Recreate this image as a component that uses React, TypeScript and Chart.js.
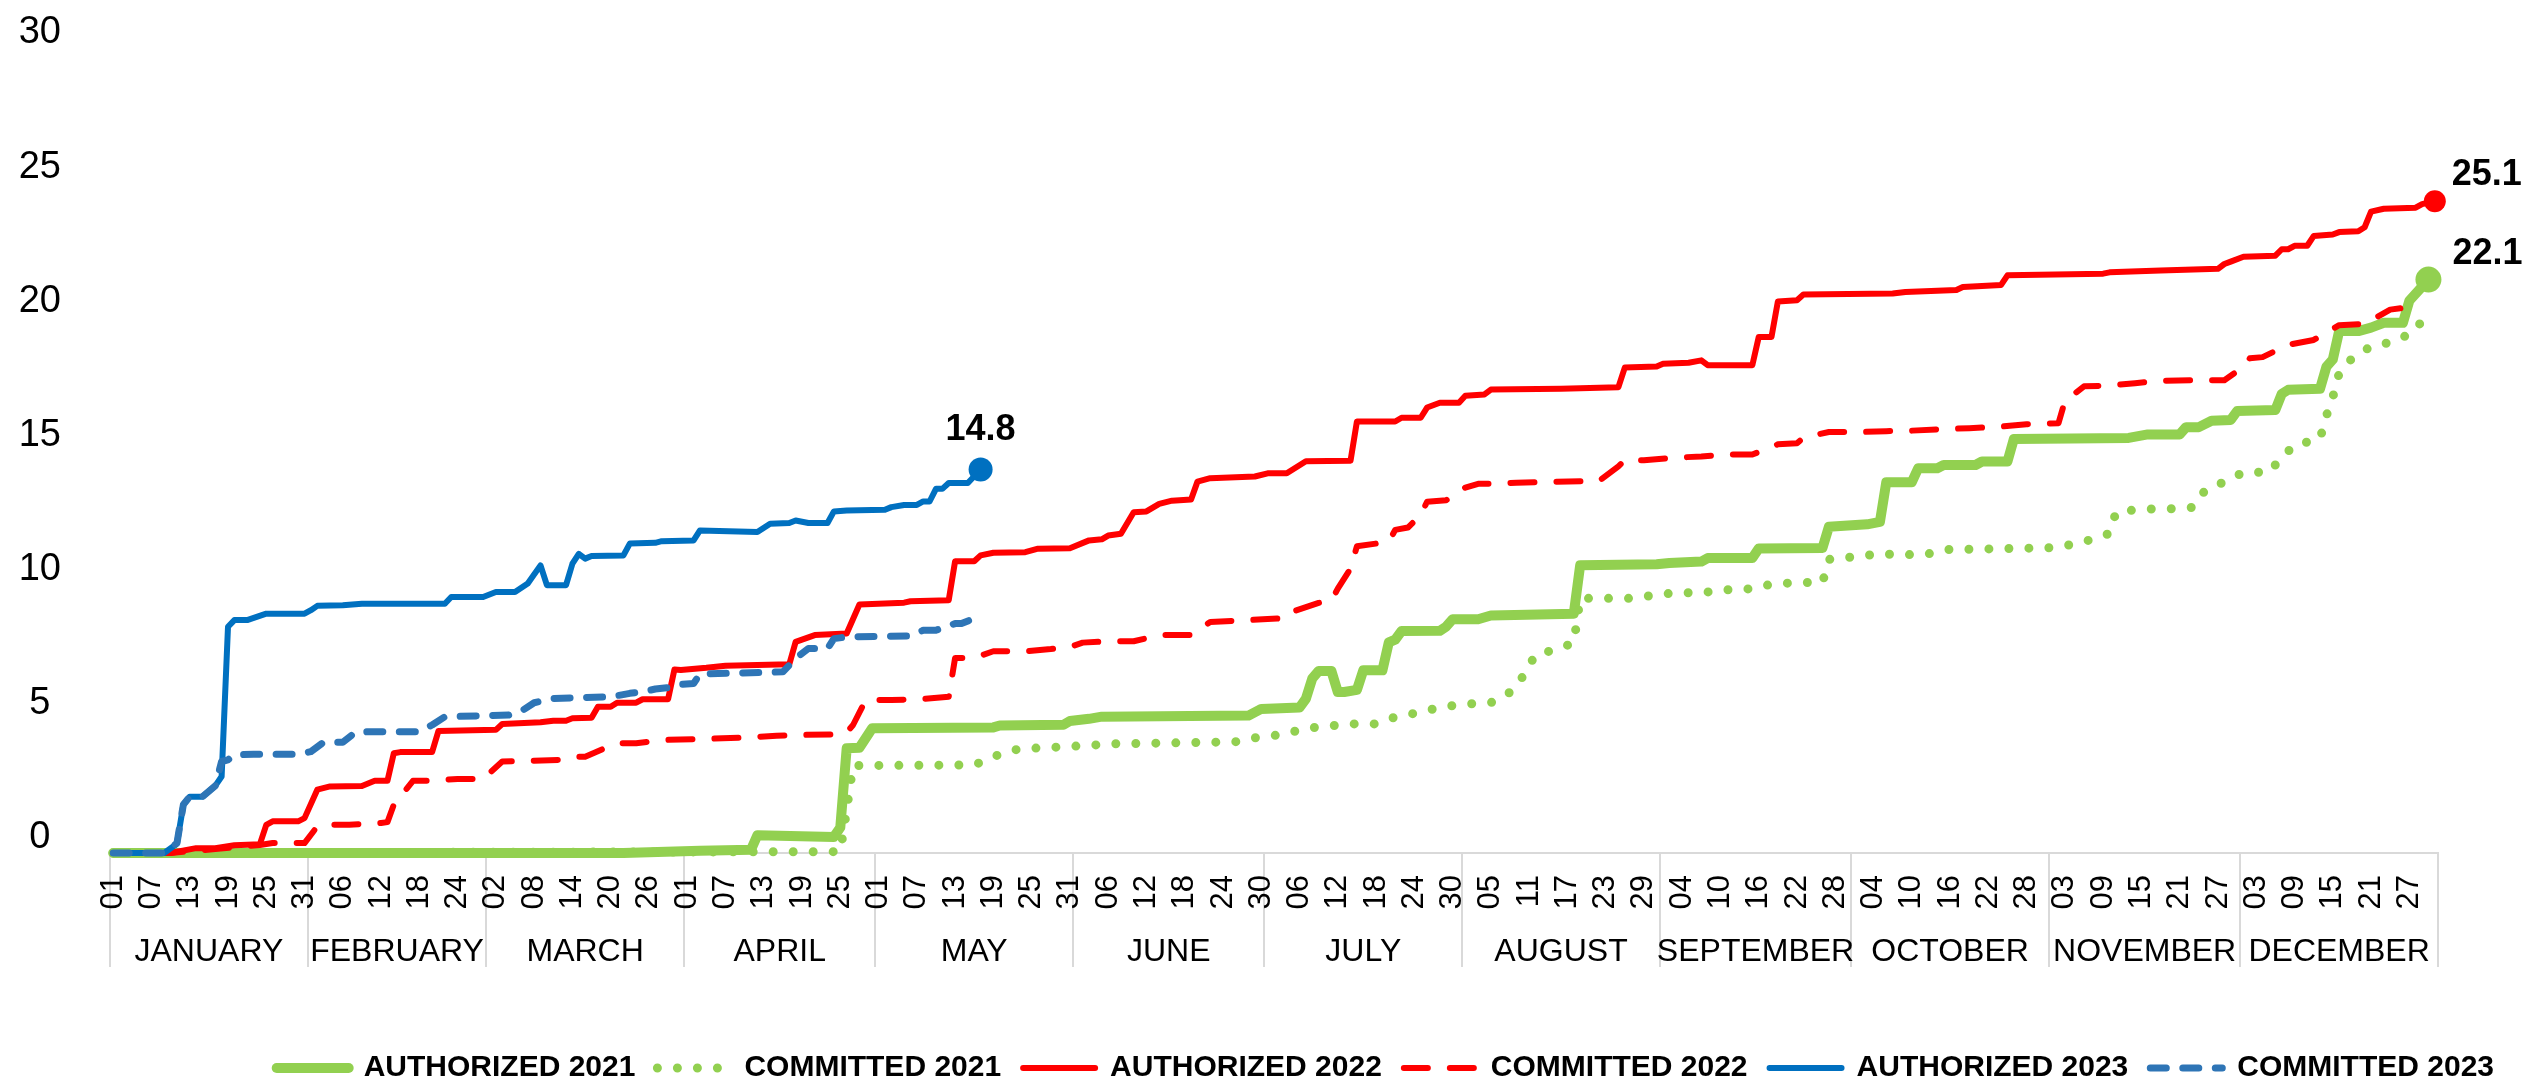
import React, { useEffect, useRef } from "react";
import { Chart, registerables } from "chart.js";

Chart.register(...registerables);

const FONT = '"Liberation Sans", Arial, Helvetica, sans-serif';

// ---- axis content ----
const MONTHS = ["JANUARY", "FEBRUARY", "MARCH", "APRIL", "MAY", "JUNE", "JULY", "AUGUST", "SEPTEMBER", "OCTOBER", "NOVEMBER", "DECEMBER"];
const MONTH_LENGTHS = [31, 28, 31, 30, 31, 30, 31, 31, 30, 31, 30, 31];
const TICK_EVERY_DAYS = 6;
const TICK_LABELS = [
  "01", "07", "13", "19", "25", "31",
  "06", "12", "18", "24",
  "02", "08", "14", "20", "26",
  "01", "07", "13", "19", "25",
  "01", "07", "13", "19", "25", "31",
  "06", "12", "18", "24", "30",
  "06", "12", "18", "24", "30",
  "05", "11", "17", "23", "29",
  "04", "10", "16", "22", "28",
  "04", "10", "16", "22", "28",
  "03", "09", "15", "21", "27",
  "03", "09", "15", "21", "27",
];
const Y_TICKS = [0, 5, 10, 15, 20, 25, 30];

const SERIES_LABELS = ["AUTHORIZED 2021", "COMMITTED 2021", "AUTHORIZED 2022", "COMMITTED 2022", "AUTHORIZED 2023", "COMMITTED 2023"];
// labels printed at the last point of the authorized series (dataset index -> text)
const END_LABEL_INDEX = [0, 2, 4];
const END_LABEL_TEXT = ["22.1", "25.1", "14.8"];

// ---- series (day of year, 0 = Jan 1) ----
const AUTH21_DAYS = [0, 80, 92, 100, 101, 113, 114, 115, 117, 119, 138, 139, 149, 150, 153, 155, 178, 180, 186, 187, 188, 189, 191, 192, 193, 195, 196, 199, 200, 201, 202, 208, 209, 210, 214, 216, 229, 230, 242, 244, 249, 250, 257, 258, 268, 269, 275, 277, 278, 282, 283, 286, 287, 292, 293, 297, 298, 316, 319, 324, 325, 327, 329, 332, 333, 339, 340, 341, 346, 347, 348, 349, 352, 354, 356, 359, 360, 363];
const AUTH21_VALUES = [0, 0, 0.08, 0.12, 0.66, 0.6, 0.95, 3.9, 3.92, 4.65, 4.68, 4.75, 4.78, 4.92, 5.0, 5.08, 5.12, 5.37, 5.42, 5.75, 6.5, 6.78, 6.78, 6.0, 6.0, 6.08, 6.81, 6.81, 7.85, 7.95, 8.27, 8.28, 8.44, 8.71, 8.71, 8.85, 8.92, 10.72, 10.76, 10.81, 10.86, 10.99, 10.99, 11.35, 11.37, 12.16, 12.25, 12.34, 13.82, 13.82, 14.34, 14.34, 14.46, 14.46, 14.59, 14.59, 15.43, 15.47, 15.6, 15.6, 15.87, 15.87, 16.11, 16.14, 16.47, 16.51, 17.11, 17.26, 17.3, 18.12, 18.39, 19.45, 19.45, 19.58, 19.76, 19.76, 20.58, 21.37];

const COMM21_DAYS = [0, 114, 115, 116, 135, 139, 142, 150, 157, 173, 176, 180, 183, 187, 190, 194, 198, 201, 205, 208, 212, 216, 219, 221, 223, 226, 229, 230, 234, 238, 242, 245, 249, 253, 257, 260, 264, 268, 269, 273, 277, 280, 284, 288, 292, 299, 303, 307, 310, 313, 314, 318, 322, 326, 328, 331, 334, 338, 340, 342, 346, 347, 348, 349, 351, 354, 358, 361, 363];
const COMM21_VALUES = [0, 0.05, 1.6, 3.26, 3.28, 3.68, 3.88, 3.97, 4.07, 4.13, 4.15, 4.34, 4.4, 4.64, 4.72, 4.81, 4.81, 5.07, 5.25, 5.43, 5.55, 5.6, 5.99, 6.57, 7.39, 7.57, 7.83, 9.49, 9.49, 9.49, 9.62, 9.7, 9.7, 9.81, 9.85, 10.02, 10.08, 10.08, 10.94, 11.04, 11.15, 11.12, 11.12, 11.32, 11.32, 11.36, 11.36, 11.49, 11.67, 11.91, 12.69, 12.82, 12.82, 12.88, 13.52, 13.83, 14.19, 14.19, 14.74, 15.2, 15.43, 16.29, 16.98, 17.88, 18.43, 18.88, 19.08, 19.49, 20.22];

const AUTH22_DAYS = [0, 9, 13, 16, 19, 23, 24, 25, 29, 30, 32, 34, 39, 41, 43, 44, 45, 50, 51, 60, 61, 67, 69, 71, 72, 75, 76, 78, 79, 82, 83, 87, 88, 89, 93, 96, 106, 107, 110, 115, 117, 124, 125, 131, 132, 135, 136, 138, 143, 145, 150, 153, 155, 156, 158, 160, 162, 164, 166, 169, 170, 172, 179, 181, 184, 187, 194, 195, 201, 202, 205, 206, 208, 211, 212, 215, 216, 227, 236, 237, 242, 243, 247, 249, 250, 257, 258, 260, 261, 264, 265, 279, 281, 289, 290, 296, 297, 312, 313, 321, 330, 331, 332, 334, 339, 340, 341, 342, 344, 345, 348, 349, 352, 353, 354, 356, 361, 362, 364];
const AUTH22_VALUES = [0, 0, 0.18, 0.18, 0.29, 0.33, 1.05, 1.18, 1.18, 1.3, 2.36, 2.48, 2.5, 2.69, 2.69, 3.72, 3.76, 3.76, 4.55, 4.59, 4.81, 4.87, 4.93, 4.93, 5.02, 5.04, 5.45, 5.45, 5.6, 5.6, 5.73, 5.73, 6.84, 6.82, 6.9, 6.98, 7.03, 7.87, 8.12, 8.18, 9.26, 9.33, 9.38, 9.42, 10.87, 10.87, 11.09, 11.19, 11.21, 11.34, 11.36, 11.65, 11.69, 11.83, 11.9, 12.7, 12.73, 13.01, 13.13, 13.17, 13.84, 13.97, 14.03, 14.15, 14.15, 14.6, 14.62, 16.08, 16.08, 16.22, 16.22, 16.6, 16.78, 16.78, 17.04, 17.09, 17.27, 17.3, 17.36, 18.09, 18.13, 18.23, 18.27, 18.36, 18.18, 18.18, 19.23, 19.23, 20.55, 20.6, 20.81, 20.85, 20.91, 20.98, 21.09, 21.17, 21.53, 21.59, 21.64, 21.71, 21.77, 21.95, 22.04, 22.22, 22.26, 22.5, 22.5, 22.63, 22.63, 22.99, 23.05, 23.14, 23.17, 23.32, 23.9, 24.01, 24.05, 24.18, 24.29];

const COMM22_DAYS = [0, 9, 16, 23, 25, 30, 32, 34, 37, 42, 43, 44, 46, 47, 50, 54, 58, 61, 65, 70, 72, 74, 78, 79, 82, 86, 91, 99, 104, 108, 113, 115, 116, 118, 122, 127, 131, 132, 135, 138, 143, 147, 150, 152, 156, 160, 164, 169, 172, 177, 181, 184, 185, 189, 191, 192, 194, 195, 200, 201, 203, 205, 206, 209, 212, 214, 216, 220, 225, 233, 236, 237, 240, 244, 249, 253, 257, 261, 264, 265, 269, 274, 278, 282, 287, 291, 296, 300, 305, 306, 309, 313, 317, 321, 326, 331, 334, 335, 337, 341, 345, 349, 353, 357, 359, 361];
const COMM22_VALUES = [0, 0, 0.15, 0.3, 0.37, 0.37, 0.99, 1.05, 1.05, 1.12, 1.15, 1.8, 2.39, 2.69, 2.69, 2.76, 2.76, 3.41, 3.43, 3.47, 3.59, 3.59, 4.0, 4.09, 4.09, 4.21, 4.24, 4.3, 4.37, 4.4, 4.42, 4.49, 4.77, 5.7, 5.7, 5.74, 5.82, 7.27, 7.27, 7.52, 7.52, 7.6, 7.68, 7.84, 7.89, 7.89, 8.12, 8.12, 8.61, 8.67, 8.72, 8.75, 9.0, 9.32, 9.41, 9.85, 10.6, 11.43, 11.6, 12.04, 12.13, 12.6, 13.09, 13.15, 13.62, 13.76, 13.76, 13.8, 13.83, 13.87, 14.41, 14.64, 14.64, 14.72, 14.78, 14.85, 14.85, 15.23, 15.27, 15.48, 15.69, 15.69, 15.72, 15.74, 15.8, 15.83, 15.89, 15.98, 16.02, 16.84, 17.39, 17.42, 17.51, 17.6, 17.62, 17.62, 18.12, 18.44, 18.48, 18.94, 19.12, 19.67, 19.72, 20.25, 20.31, 20.62];

const AUTH23_DAYS = [0, 8, 10, 11, 12, 14, 16, 17, 18, 19, 21, 24, 30, 31, 32, 36, 39, 52, 53, 58, 60, 63, 65, 67, 68, 71, 72, 73, 74, 75, 80, 81, 85, 86, 91, 92, 101, 103, 106, 107, 109, 112, 113, 115, 121, 122, 124, 126, 127, 128, 129, 130, 131, 134, 136];
const AUTH23_VALUES = [0, 0, 0.35, 1.8, 2.1, 2.1, 2.5, 2.85, 8.43, 8.68, 8.68, 8.92, 8.92, 9.05, 9.21, 9.23, 9.29, 9.29, 9.54, 9.54, 9.73, 9.73, 10.04, 10.72, 9.98, 9.98, 10.78, 11.15, 10.97, 11.07, 11.09, 11.53, 11.56, 11.62, 11.65, 12.02, 11.96, 12.27, 12.3, 12.39, 12.3, 12.3, 12.73, 12.76, 12.79, 12.89, 12.97, 12.97, 13.1, 13.1, 13.57, 13.57, 13.79, 13.79, 14.29];

const COMM23_DAYS = [0, 8, 10, 11, 12, 14, 16, 17, 18, 19, 22, 29, 31, 33, 36, 38, 40, 48, 50, 52, 62, 64, 66, 69, 78, 81, 83, 85, 87, 88, 91, 92, 105, 107, 109, 112, 113, 115, 125, 127, 129, 132, 133, 136];
const COMM23_VALUES = [0, 0, 0.37, 1.8, 2.1, 2.1, 2.5, 3.41, 3.47, 3.66, 3.68, 3.68, 3.78, 4.13, 4.13, 4.5, 4.52, 4.52, 4.77, 5.08, 5.14, 5.29, 5.6, 5.76, 5.82, 5.95, 6.01, 6.11, 6.16, 6.26, 6.32, 6.67, 6.75, 7.25, 7.62, 7.62, 7.99, 8.05, 8.09, 8.3, 8.3, 8.55, 8.55, 8.84];

const GREEN = "#92D050";
const RED = "#FF0000";
const BLUE = "#0070C0";
const BLUE_LIGHT = "#2E75B6";

const toPoints = (days: number[], values: number[]) => days.map((d, i) => ({ x: d, y: values[i] }));

export default function App() {
  const canvasRef = useRef<HTMLCanvasElement | null>(null);

  useEffect(() => {
    const canvas = canvasRef.current;
    if (!canvas) return;

    const lastRadius = (r: number) => (c: any) => (c.dataIndex === c.dataset.data.length - 1 ? r : 0);

    const base = {
      fill: false,
      tension: 0,
      clip: false,
      borderCapStyle: "round" as const,
      borderJoinStyle: "round" as const,
      pointBorderWidth: 0,
      pointHoverRadius: 0,
    };

    const datasets: any[] = [
      { ...base, label: SERIES_LABELS[0], data: toPoints(AUTH21_DAYS, AUTH21_VALUES), borderColor: GREEN, backgroundColor: GREEN, pointBackgroundColor: GREEN, borderWidth: 10, pointRadius: lastRadius(13), order: 5 },
      { ...base, label: SERIES_LABELS[1], data: toPoints(COMM21_DAYS, COMM21_VALUES), borderColor: GREEN, backgroundColor: GREEN, borderWidth: 9, borderDash: [0, 20], pointRadius: 0, order: 4 },
      { ...base, label: SERIES_LABELS[2], data: toPoints(AUTH22_DAYS, AUTH22_VALUES), borderColor: RED, backgroundColor: RED, pointBackgroundColor: RED, borderWidth: 6, pointRadius: lastRadius(11), order: 3 },
      { ...base, label: SERIES_LABELS[3], data: toPoints(COMM22_DAYS, COMM22_VALUES), borderColor: RED, backgroundColor: RED, borderWidth: 6, borderDash: [24, 22], pointRadius: 0, order: 2 },
      { ...base, label: SERIES_LABELS[4], data: toPoints(AUTH23_DAYS, AUTH23_VALUES), borderColor: BLUE, backgroundColor: BLUE, pointBackgroundColor: BLUE, borderWidth: 6, pointRadius: lastRadius(12), order: 1 },
      { ...base, label: SERIES_LABELS[5], data: toPoints(COMM23_DAYS, COMM23_VALUES), borderColor: BLUE_LIGHT, backgroundColor: BLUE_LIGHT, borderWidth: 7, borderDash: [16, 16.5], pointRadius: 0, order: 0 },
    ];

    const monthBounds: number[] = [0];
    MONTH_LENGTHS.forEach((l) => monthBounds.push(monthBounds[monthBounds.length - 1] + l));

    // month separators (under the tick labels) and month names
    const monthAxisPlugin = {
      id: "monthAxis",
      beforeDraw(chart: any) {
        const xs = chart.scales.x;
        const c = chart.ctx;
        const top = chart.chartArea.bottom;
        c.save();
        c.strokeStyle = "#D9D9D9";
        c.lineWidth = 2;
        monthBounds.forEach((b) => {
          const px = Math.round(xs.getPixelForValue(b - 0.5));
          c.beginPath();
          c.moveTo(px, top);
          c.lineTo(px, top + 114);
          c.stroke();
        });
        c.fillStyle = "#000";
        c.font = `32px ${FONT}`;
        c.textAlign = "center";
        c.textBaseline = "alphabetic";
        MONTHS.forEach((m, i) => {
          const a = xs.getPixelForValue(monthBounds[i] - 0.5);
          const b = xs.getPixelForValue(monthBounds[i + 1] - 0.5);
          c.fillText(m, (a + b) / 2, top + 108);
        });
        c.restore();
      },
    };

    const endLabelPlugin = {
      id: "endLabels",
      afterDatasetsDraw(chart: any) {
        const c = chart.ctx;
        c.save();
        c.fillStyle = "#000";
        c.font = `bold 36px ${FONT}`;
        c.textBaseline = "alphabetic";
        END_LABEL_INDEX.forEach((dsIndex, k) => {
          const pts = chart.getDatasetMeta(dsIndex).data;
          const p = pts[pts.length - 1];
          if (!p) return;
          if (dsIndex === 4) {
            c.textAlign = "center";
            c.fillText(END_LABEL_TEXT[k], p.x, p.y - 30);
          } else {
            c.textAlign = "left";
            c.fillText(END_LABEL_TEXT[k], p.x + (dsIndex === 0 ? 24 : 17), p.y - 16);
          }
        });
        c.restore();
      },
    };

    const chart = new Chart(canvas, {
      type: "line",
      data: { datasets },
      plugins: [monthAxisPlugin, endLabelPlugin],
      options: {
        responsive: false,
        animation: false,
        devicePixelRatio: 1,
        events: [],
        layout: { padding: { top: 48, left: 0, right: 9, bottom: 7 } },
        scales: {
          x: {
            type: "linear",
            min: -0.5,
            max: 364.5,
            afterBuildTicks: (s: any) => {
              s.ticks = TICK_LABELS.map((_, i) => ({ value: i * TICK_EVERY_DAYS }));
            },
            afterFit: (s: any) => {
              s.height = 178;
            },
            grid: { display: false, drawTicks: false },
            border: { display: true, color: "#D9D9D9", width: 2 },
            ticks: {
              autoSkip: false,
              minRotation: 90,
              maxRotation: 90,
              padding: 22,
              color: "#000",
              font: { size: 31, family: FONT },
              callback: (_v: any, i: number) => TICK_LABELS[i],
            },
          },
          y: {
            type: "linear",
            position: "left",
            min: 0,
            max: 30,
            afterBuildTicks: (s: any) => {
              s.ticks = Y_TICKS.map((v) => ({ value: v }));
            },
            afterFit: (s: any) => {
              s.width = 110;
              s.paddingTop = 20;
              s.paddingBottom = 20;
            },
            grid: { display: false, drawTicks: false },
            border: { display: false },
            ticks: {
              crossAlign: "center",
              padding: 49,
              labelOffset: -15,
              color: "#000",
              font: { size: 38, family: FONT },
            },
          },
          yR: {
            type: "linear",
            position: "right",
            display: true,
            grid: { display: false, drawTicks: false },
            border: { display: false },
            ticks: { display: false },
            afterFit: (s: any) => {
              s.width = 78;
              s.paddingTop = 0;
              s.paddingBottom = 0;
            },
          },
        },
        plugins: {
          tooltip: { enabled: false },
          legend: {
            position: "bottom",
            align: "end",
            labels: {
              usePointStyle: true,
              pointStyle: "line",
              pointStyleWidth: 72,
              padding: 22,
              color: "#000",
              font: { size: 30, weight: "bold", family: FONT },
              generateLabels: (ch: any) =>
                ch.data.datasets.map((ds: any, i: number) => ({
                  text: ds.label,
                  datasetIndex: i,
                  hidden: false,
                  fillStyle: ds.borderColor,
                  strokeStyle: ds.borderColor,
                  lineWidth: ds.borderWidth,
                  lineDash: ds.borderDash || [],
                  lineCap: "round",
                  lineJoin: "round",
                  pointStyle: "line",
                  fontColor: "#000",
                })),
            },
          },
        },
      } as any,
    });

    return () => chart.destroy();
  }, []);

  return (
    <div style={{ position: "fixed", left: 0, top: 0, width: 2525, height: 1083, overflow: "hidden", background: "#fff" }}>
      <canvas ref={canvasRef} width={2525} height={1100} style={{ display: "block" }} />
    </div>
  );
}
